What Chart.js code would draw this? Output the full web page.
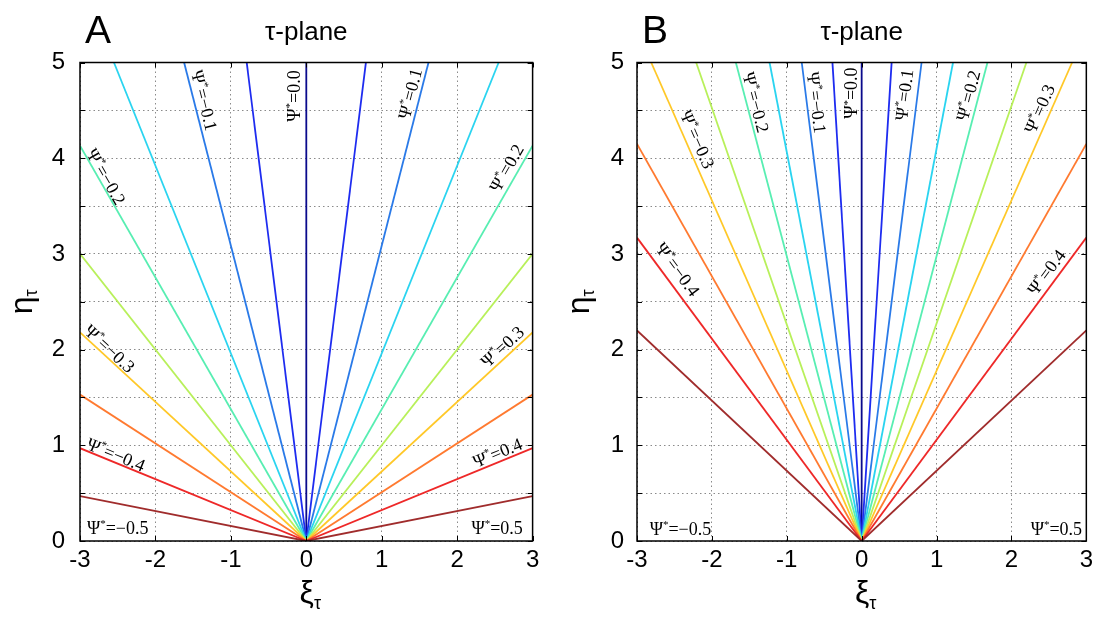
<!DOCTYPE html>
<html>
<head>
<meta charset="utf-8">
<script src="https://cdn.jsdelivr.net/npm/chart.js@4.4.1/dist/chart.umd.min.js"></script>
<style>
  body { margin: 0; background: #fff; }
  .panel { position: absolute; top: 0; width: 549px; height: 624px; }
</style>
</head>
<body>
<div class="panel" style="left:0"><canvas id="chartA" width="549" height="624"></canvas></div>
<div class="panel" style="left:549px"><canvas id="chartB" width="549" height="624"></canvas></div>
<script>
// colour of each ray, index 0 = Psi*=0, then |Psi*| = 0.05 ... 0.45
const rayColors = ['#0a0a8c', '#1e2cf0', '#2a7ae8', '#2ad4f0', '#58eeb2',
                   '#b8f05a', '#ffc828', '#ff7a30', '#ee2828', '#a02c2c'];

// panel A: end points of the rays leaving the origin
const endRightXA = [0, 0.79, 1.62, 2.55, 3, 3, 3, 3, 3, 3];
const endRightYA = [5, 5, 5, 5, 4.13, 3.0, 2.18, 1.53, 0.97, 0.47];
const endLeftXA = [0, -0.79, -1.62, -2.55, -3, -3, -3, -3, -3, -3];
const endLeftYA = [5, 5, 5, 5, 4.13, 3.0, 2.18, 1.53, 0.97, 0.47];

// panel B
const endRightXB = [0, 0.40, 0.80, 1.22, 1.68, 2.20, 2.81, 3, 3, 3];
const endRightYB = [5, 5, 5, 5, 5, 5, 5, 4.15, 3.17, 2.2];
const endLeftXB = [0, -0.39, -0.80, -1.23, -1.68, -2.21, -2.81, -3, -3, -3];
const endLeftYB = [5, 5, 5, 5, 5, 5, 5, 4.15, 3.17, 2.2];

// Psi* labels: text, centre (data coords), ray they run along (-1 = the xi axis)
const labelValsA = ['0.0', '\u22120.1', '0.1', '\u22120.2', '0.2', '\u22120.3', '0.3', '\u22120.4', '0.4', '\u22120.5', '0.5'];
const labelXA = [-0.15, -1.37, 1.39, -2.67, 2.67, -2.62, 2.61, -2.53, 2.54, -2.50, 2.53];
const labelYA = [4.65, 4.60, 4.67, 3.80, 3.89, 2.00, 2.02, 0.89, 0.91, 0.12, 0.12];
const labelRayA = [0, 2, 2, 4, 4, 6, 6, 8, 8, -1, -1];

const labelValsB = labelValsA;
const labelXB = [-0.12, -0.62, 0.585, -1.43, 1.44, -2.21, 2.39, -2.47, 2.48, -2.42, 2.60];
const labelYB = [4.68, 4.58, 4.66, 4.58, 4.65, 4.19, 4.51, 2.83, 2.80, 0.11, 0.11];
const labelRayB = labelRayA;

const xTicks = [-3, -2, -1, 0, 1, 2, 3];
const yTicks = [0, 0.5, 1, 1.5, 2, 2.5, 3, 3.5, 4, 4.5, 5];

const SANS = '"Liberation Sans", Arial, sans-serif';
const SERIF = '"Liberation Serif", "Times New Roman", serif';

function rayDatasets(rx, ry, lx, ly) {
  const sets = [];
  // outer rays first, centre ray last so it sits on top
  for (let i = rx.length - 1; i >= 0; i--) {
    sets.push({ data: [{x: 0, y: 0}, {x: lx[i], y: ly[i]}], borderColor: rayColors[i] });
    if (i > 0) sets.push({ data: [{x: 0, y: 0}, {x: rx[i], y: ry[i]}], borderColor: rayColors[i] });
  }
  sets.forEach(s => { s.showLine = true; s.pointRadius = 0; s.borderWidth = 1.8; s.fill = false; });
  return sets;
}

function drawPsi(ctx, x, y, angle, value) {
  const big = '18px ' + SERIF, small = '11px ' + SERIF;
  const rest = '=' + value;
  ctx.save();
  ctx.translate(x, y);
  ctx.rotate(angle);
  ctx.fillStyle = '#000';
  ctx.textAlign = 'left';
  ctx.textBaseline = 'middle';
  ctx.font = big;
  const w1 = ctx.measureText('\u03A8').width;
  const w3 = ctx.measureText(rest).width;
  ctx.font = small;
  const w2 = ctx.measureText('*').width;
  let cx = -(w1 + w2 + w3) / 2;
  ctx.font = big; ctx.fillText('\u03A8', cx, 0); cx += w1;
  ctx.font = small; ctx.fillText('*', cx, -5); cx += w2;
  ctx.font = big; ctx.fillText(rest, cx, 0);
  ctx.restore();
}

function makePanel(id, letter, yAxisWidth, yPad, padRight, rays, labels) {
  const decor = {
    id: 'decor' + letter,
    afterDatasetsDraw(chart) {
      const {ctx, chartArea: a, scales: {x, y}} = chart;
      // frame and inward ticks
      ctx.save();
      ctx.strokeStyle = '#000';
      ctx.lineWidth = 1.5;
      ctx.strokeRect(a.left, a.top, a.right - a.left, a.bottom - a.top);
      ctx.lineWidth = 1;
      ctx.beginPath();
      yTicks.forEach(v => {
        const py = Math.round(y.getPixelForValue(v)) + 0.5;
        ctx.moveTo(a.left, py); ctx.lineTo(a.left + 5, py);
        ctx.moveTo(a.right, py); ctx.lineTo(a.right - 5, py);
      });
      xTicks.forEach(v => {
        const px = Math.round(x.getPixelForValue(v)) + 0.5;
        ctx.moveTo(px, a.bottom); ctx.lineTo(px, a.bottom - 5);
        ctx.moveTo(px, a.top); ctx.lineTo(px, a.top + 5);
      });
      ctx.stroke();
      ctx.restore();

      // Psi* labels
      const ox = x.getPixelForValue(0), oy = y.getPixelForValue(0);
      labels.vals.forEach((val, i) => {
        const r = labels.ray[i];
        let ang = 0;
        if (r >= 0) {
          const left = labels.x[i] < 0 && r > 0;
          const ex = x.getPixelForValue(left ? rays.lx[r] : rays.rx[r]);
          const ey = y.getPixelForValue(left ? rays.ly[r] : rays.ry[r]);
          ang = left ? Math.atan2(oy - ey, ox - ex) : Math.atan2(ey - oy, ex - ox);
        }
        drawPsi(ctx, x.getPixelForValue(labels.x[i]), y.getPixelForValue(labels.y[i]), ang, val);
      });

      // panel letter, title, axis titles
      const cxm = (a.left + a.right) / 2;
      ctx.save();
      ctx.fillStyle = '#000';
      ctx.textBaseline = 'alphabetic';
      ctx.textAlign = 'left';
      ctx.font = '39px ' + SANS;
      ctx.fillText(letter, a.left + 5, 43);
      ctx.textAlign = 'center';
      ctx.font = '26px ' + SANS;
      ctx.fillText('\u03C4-plane', cxm, 40);

      // xi_tau
      ctx.textAlign = 'left';
      ctx.font = '32px ' + SANS;
      const wx = ctx.measureText('\u03BE').width;
      ctx.font = '18px ' + SANS;
      const wt = ctx.measureText('\u03C4').width;
      let sx = cxm + 4 - (wx + wt) / 2;
      ctx.font = '32px ' + SANS;
      ctx.fillText('\u03BE', sx, 603);
      ctx.font = '18px ' + SANS;
      ctx.fillText('\u03C4', sx + wx, 609);

      // eta_tau, rotated
      ctx.translate(a.left - 57, (a.top + a.bottom) / 2);
      ctx.rotate(-Math.PI / 2);
      ctx.font = '32px ' + SANS;
      const we = ctx.measureText('\u03B7').width;
      sx = -(we + wt) / 2;
      ctx.textBaseline = 'middle';
      ctx.fillText('\u03B7', sx, 0);
      ctx.font = '18px ' + SANS;
      ctx.fillText('\u03C4', sx + we, 9);
      ctx.restore();
    }
  };

  return new Chart(document.getElementById(id), {
    type: 'scatter',
    data: { datasets: rayDatasets(rays.rx, rays.ry, rays.lx, rays.ly) },
    options: {
      responsive: false,
      animation: false,
      layout: { padding: { top: 62.5, right: padRight, bottom: 0, left: 0 } },
      plugins: { legend: { display: false }, tooltip: { enabled: false } },
      scales: {
        x: {
          type: 'linear', min: -3, max: 3,
          afterFit: s => { s.height = 83; },
          ticks: { stepSize: 1, padding: 5, color: '#000', font: { family: SANS, size: 24 } },
          grid: { color: '#8a8a8a', lineWidth: 1, drawTicks: false },
          border: { display: false, dash: [1.5, 3] }
        },
        y: {
          type: 'linear', min: 0, max: 5,
          afterFit: s => { s.width = yAxisWidth; },
          ticks: {
            stepSize: 0.5, autoSkip: false, padding: yPad, color: '#000',
            font: { family: SANS, size: 24 },
            callback: v => Number.isInteger(v) ? v : ''
          },
          grid: { color: '#8a8a8a', lineWidth: 1, drawTicks: false },
          border: { display: false, dash: [1.5, 3] }
        }
      }
    },
    plugins: [decor]
  });
}

makePanel('chartA', 'A', 80, 15, 16.4,
  { rx: endRightXA, ry: endRightYA, lx: endLeftXA, ly: endLeftYA },
  { vals: labelValsA, x: labelXA, y: labelYA, ray: labelRayA });

makePanel('chartB', 'B', 88, 13, 7,
  { rx: endRightXB, ry: endRightYB, lx: endLeftXB, ly: endLeftYB },
  { vals: labelValsB, x: labelXB, y: labelYB, ray: labelRayB });
</script>
</body>
</html>
